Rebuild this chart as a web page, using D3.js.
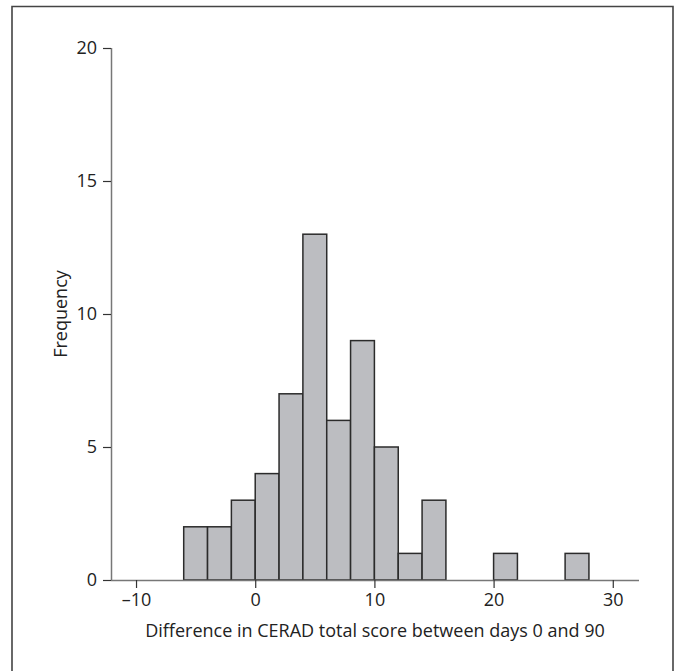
<!DOCTYPE html>
<html><head><meta charset="utf-8">
<script src="https://cdn.jsdelivr.net/npm/d3@7"></script>
<style>body{margin:0;background:#fff}</style>
</head><body>
<svg id="c" width="676" height="671"></svg>
<script>
const binStarts = [-6,-4,-2,0,2,4,6,8,10,12,14,20,26];
const binWidth = 2;
const counts = [2,2,3,4,7,13,6,9,5,1,3,1,1];
const xTicks = [-10,0,10,20,30];
const yTicks = [0,5,10,15,20];
const xTitle = "Difference in CERAD total score between days 0 and 90";
const yTitle = "Frequency";

const svg = d3.select("#c");
const font = "'Open Sans', 'Noto Sans', sans-serif";
// frame
svg.append("path").attr("d","M12,672 L12,6.5 L673,6.5 L673,672")
  .attr("fill","none").attr("stroke","#444").attr("stroke-width",1.6);

const x = d3.scaleLinear().domain([-12.1,32.2]).range([111,639]);
const y = d3.scaleLinear().domain([0,20]).range([580,48]);

const g = svg.append("g");
g.selectAll("rect").data(binStarts).join("rect")
  .attr("x", (d)=>x(d))
  .attr("width", (d)=>x(d+binWidth)-x(d))
  .attr("y", (d,i)=>y(counts[i]))
  .attr("height", (d,i)=>y(0)-y(counts[i]))
  .attr("fill","#bcbdc1").attr("stroke","#2b2b2b").attr("stroke-width",1.5);

const xAxis = svg.append("g").attr("transform","translate(0,580)")
  .call(d3.axisBottom(x).tickValues(xTicks).tickSize(8).tickPadding(5)
    .tickFormat(d=>d<0?"\u2013"+Math.abs(d):d));
const yAxis = svg.append("g").attr("transform","translate(111,0)")
  .call(d3.axisLeft(y).tickValues(yTicks).tickSize(8).tickPadding(6));
[xAxis,yAxis].forEach(a=>{
  a.select(".domain").attr("stroke","#777").attr("stroke-width",1.5);
  a.selectAll(".tick line").attr("stroke","#333").attr("stroke-width",1.2);
  a.selectAll(".tick text").attr("fill","#222").style("font-family",font).style("font-size","18px");
});
xAxis.select(".domain").attr("d","M111,0.5H639");
yAxis.select(".domain").attr("d","M0.5,580V48");

svg.append("text").attr("x",375).attr("y",637).attr("text-anchor","middle")
  .attr("fill","#222").style("font-family",font).style("font-size","18px").text(xTitle);
svg.append("text").attr("transform","translate(67,314) rotate(-90)").attr("text-anchor","middle")
  .attr("fill","#222").style("font-family",font).style("font-size","18px").text(yTitle);
</script>
</body></html>
